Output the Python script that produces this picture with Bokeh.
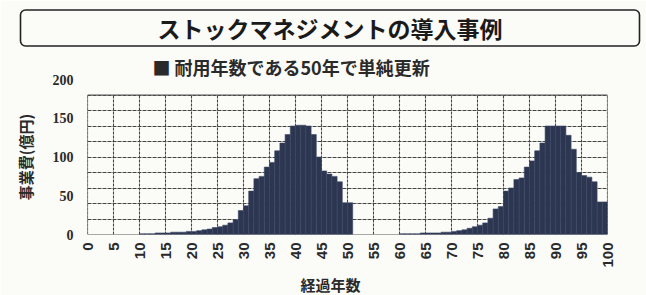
from math import pi
from bokeh.plotting import figure
from bokeh.models import ColumnDataSource, Range1d, FixedTicker, Title
from bokeh.embed import file_html
from bokeh.resources import INLINE

# ---- texts ----
title_text = "ストックマネジメントの導入事例"
series_name = "耐用年数である50年で単純更新"
y_title = "事業費(億円)"
x_title = "経過年数"

# ---- data ----
x_ticks = list(range(0, 101, 5))
y_ticks = [0, 50, 100, 150, 200]
grid_levels = list(range(0, 181, 20))

years_first = list(range(10, 51))
cost_first = [1, 1, 1, 2, 2, 2, 3, 3, 3, 4,          # 10-19
              4, 5, 6, 7, 9, 10, 12, 15, 19, 31,     # 20-29
              37, 56, 72, 75, 87, 93, 108, 118, 129, 140,  # 30-39
              141, 141, 140, 129, 100, 82, 78, 75, 68, 41,  # 40-49
              41]                                     # 50

years_second = list(range(60, 100))
cost_second = [1, 1, 1, 1, 2, 2, 2, 2, 3, 3,         # 60-69
               4, 5, 6, 8, 10, 12, 15, 21, 33, 36,   # 70-79
               56, 60, 71, 73, 87, 95, 108, 118, 140, 140,  # 80-89
               140, 140, 128, 110, 80, 76, 74, 68, 42, 42]  # 90-99

BAR = "#2c3650"
BAR_EDGE = "#3d4866"
PAPER = "#fbfbf8"
INK = "#2a2a2a"
GRID = "#444444"
CJK = "Noto Sans CJK JP"

p = figure(width=646, height=295, output_backend="svg", toolbar_location=None,
           x_range=Range1d(0, 100), y_range=Range1d(0, 200),
           min_border_left=87, min_border_right=39,
           min_border_top=79, min_border_bottom=58,
           background_fill_color=PAPER, border_fill_color=PAPER,
           outline_line_color=None)

# grid: horizontal lines every 20 up to 180, vertical lines every 5 years
p.xgrid.visible = False
p.ygrid.ticker = FixedTicker(ticks=grid_levels)
p.ygrid.grid_line_color = GRID
p.ygrid.grid_line_dash = "4 1"
p.ygrid.grid_line_width = 1.2
top_grid = grid_levels[-1]
p.segment(x0=x_ticks, y0=[0] * len(x_ticks), x1=x_ticks,
          y1=[top_grid] * len(x_ticks), line_color=GRID, line_width=1.1,
          line_dash="3 1")
p.quad(left=[x_ticks[0]], right=[x_ticks[-1]], bottom=[0], top=[top_grid],
       fill_alpha=0, line_color="#555555", line_width=1.1)

src1 = ColumnDataSource(dict(x=[y + 0.5 for y in years_first], top=cost_first))
src2 = ColumnDataSource(dict(x=[y + 0.5 for y in years_second], top=cost_second))
r1 = p.vbar(x="x", top="top", width=1, source=src1,
            fill_color=BAR, line_color=BAR_EDGE, line_width=0.6)
r2 = p.vbar(x="x", top="top", width=1, source=src2,
            fill_color=BAR, line_color=BAR_EDGE, line_width=0.6)

# axes
p.xaxis.ticker = FixedTicker(ticks=x_ticks)
p.yaxis.ticker = FixedTicker(ticks=y_ticks)
for ax in (p.xaxis[0], p.yaxis[0]):
    ax.axis_line_color = None
    ax.major_tick_line_color = None
    ax.minor_tick_line_color = None
    ax.major_tick_out = 0
    ax.major_tick_in = 0
    ax.major_label_text_color = INK
    ax.major_label_text_font_style = "bold"
    ax.axis_label_text_color = INK
    ax.axis_label_text_font = CJK
    ax.axis_label_text_font_style = "bold"

p.xaxis.major_label_orientation = pi / 2
p.xaxis.major_label_text_font = "Liberation Sans"
p.xaxis.major_label_text_font_size = "15px"
p.xaxis.major_label_standoff = 8

p.yaxis.major_label_text_font = "Liberation Sans Narrow"
p.yaxis.major_label_text_font_size = "14px"
p.yaxis.major_label_standoff = 14
p.yaxis.axis_label = y_title
p.yaxis.axis_label_text_font_size = "15px"
p.yaxis.axis_label_standoff = 14

# x-axis title as a line below the tick labels
p.add_layout(Title(text=x_title, align="left", offset=213, standoff=2,
                   text_font=CJK, text_font_size="15px",
                   text_font_style="bold", text_color=INK), "below")

# series key line above the plot
p.add_layout(Title(text="■ " + series_name, align="left", offset=65,
                   standoff=0, text_font=CJK, text_font_size="18px",
                   text_font_style="bold", text_color=INK), "above")

# boxed title
p.title = Title(text=title_text, align="left", offset=-67, standoff=11,
                text_font=CJK, text_font_size="23px", text_font_style="bold",
                text_color="#1a1a1a", border_line_color="#222222",
                border_line_width=1.6, border_radius=5,
                padding=dict(left=137, right=137, top=1, bottom=1))

open("out.html", "w").write(file_html(p, INLINE))
